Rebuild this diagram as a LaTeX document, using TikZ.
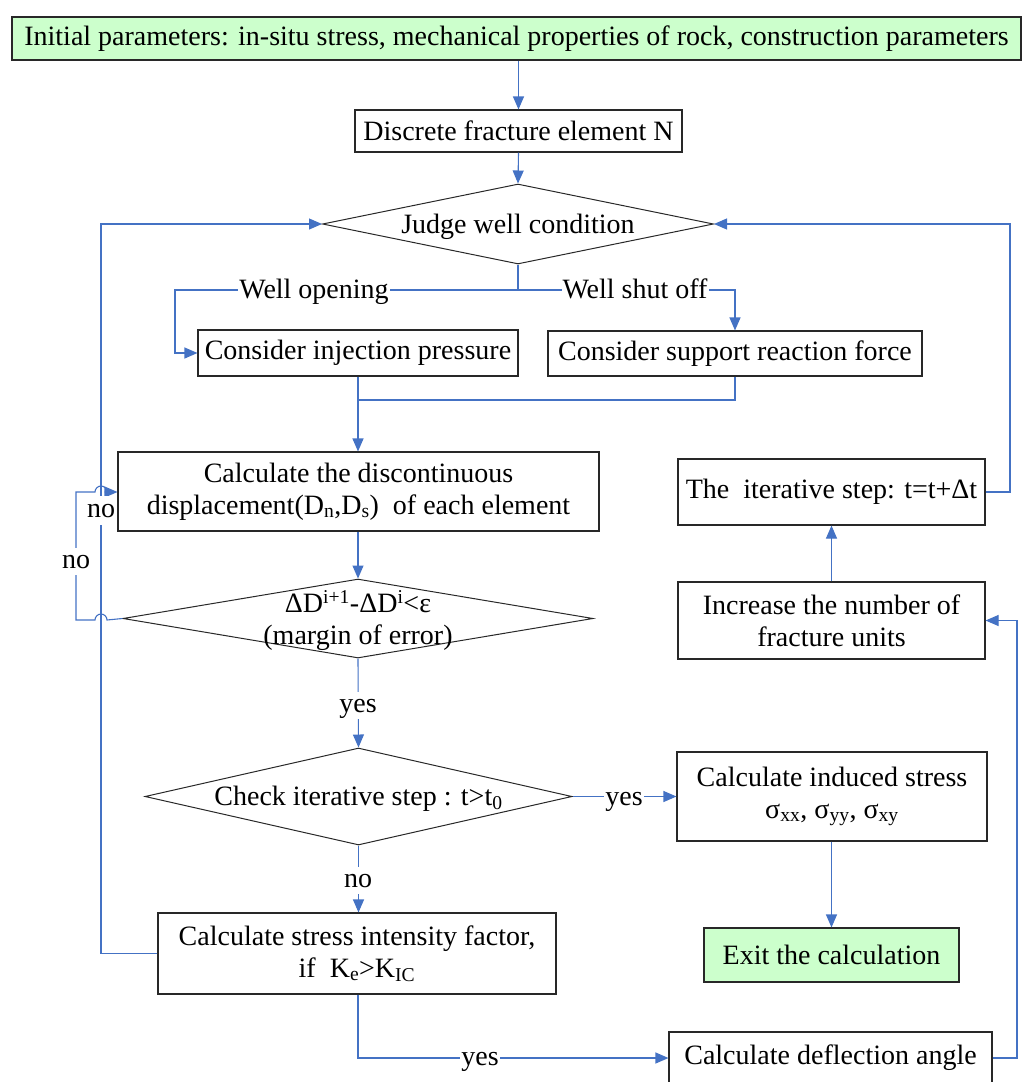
\documentclass[tikz,border=0pt]{standalone}
\usepackage{fontspec}
\setmainfont{Liberation Serif}
\usetikzlibrary{arrows.meta,shapes.geometric}
\definecolor{lblue}{RGB}{68,114,196}
\definecolor{lgreen}{RGB}{204,255,204}
\definecolor{bord}{RGB}{40,40,40}
\begin{document}
\begin{tikzpicture}[x=1pt,y=-1pt,
  font=\fontsize{28}{32}\selectfont,
  box/.style={draw=bord, line width=1.1pt, align=center, inner sep=2pt},
  dia/.style={diamond, draw=bord, line width=1pt, inner sep=0pt},
  conn/.style={draw=lblue, line width=1.1pt},
  arr/.style={conn, -{Triangle[length=13pt,width=11pt]}},
  lab/.style={fill=white, inner sep=1pt, text height=19pt, text depth=6pt}]
\useasboundingbox (0,0) rectangle (1025,1082);

% nodes
\node[box, fill=lgreen, minimum width=1009pt, minimum height=43pt] (init) at (516.5,38.5)
  {Initial parameters: in-situ stress, mechanical properties of rock, construction parameters};
\node[box, minimum width=327pt, minimum height=42pt] (disc) at (518.5,131) {Discrete fracture element N};
\node[dia, minimum width=391pt, minimum height=80pt] (d1) at (518,224) {};
\node (d1t) at (518,226.5) {Judge well condition};
\node[box, minimum width=320pt, minimum height=46pt] (inj) at (358,353) {Consider injection pressure};
\node[box, minimum width=374pt, minimum height=45pt] (sup) at (735,353.5) {Consider support reaction force};
\node[box, minimum width=481pt, minimum height=79pt] (calc) at (358.5,491.5)
  {Calculate the discontinuous\\displacement(D\textsubscript{n},D\textsubscript{s})\ \ of each element};
\node[dia, minimum width=470pt, minimum height=79pt] (d2) at (358,618.5) {};
\node[align=center] (d2t) at (358,621) {ΔD\textsuperscript{i+1}-ΔD\textsuperscript{i}<ε\\(margin of error)};
\node[dia, minimum width=427pt, minimum height=97pt] (d3) at (358.5,796.5) {};
\node (d3t) at (358.5,798.5) {Check iterative step : t>t\textsubscript{0}};
\node[box, minimum width=310pt, minimum height=89pt] (ind) at (832,796.5)
  {Calculate induced stress\\σ\textsubscript{xx}, σ\textsubscript{yy}, σ\textsubscript{xy}};
\node[box, fill=lgreen, minimum width=255pt, minimum height=54pt] (exit) at (831.5,955) {Exit the calculation};
\node[box, minimum width=398pt, minimum height=81pt] (sif) at (357,953.5)
  {Calculate stress intensity factor,\\if\ \ K\textsubscript{e}>K\textsubscript{IC}};
\node[box, minimum width=323pt, minimum height=52pt] (defl) at (830.5,1058) {Calculate deflection angle};
\node[box, minimum width=307pt, minimum height=77pt] (inc) at (831.5,620.5)
  {Increase the number of\\fracture units};
\node[box, minimum width=307pt, minimum height=66pt] (iter) at (831.5,492)
  {The\ \ iterative step: t=t+Δt};

% helper coordinates
\coordinate (split) at (518,290);
\coordinate (wol) at (175,290);
\coordinate (wsr) at (735,290);
\coordinate (merge) at (358,400);
\coordinate (supd) at (735,400);
\coordinate (nol1) at (76,620);
\coordinate (nol2) at (76,492);
\coordinate (nob1) at (101,953.5);
\coordinate (nob2) at (101,224);
\coordinate (yb) at (358,1058);
\coordinate (rr1) at (1017,1058);
\coordinate (rr2) at (1017,620.5);
\coordinate (tr1) at (1010,492);
\coordinate (tr2) at (1010,224);

% connectors
\draw[arr] (disc.north |- init.south) -- (disc.north);
\draw[arr] (disc.south) -- (d1.north);
\draw[conn] (d1.south) -- (split);
\draw[arr] (split) -- (wol) -- (wol |- inj.west) -- (inj.west);
\draw[arr] (split) -- (wsr) -- (sup.north);
\node[lab] at (314,291.5) {Well opening};
\node[lab] at (635,291.5) {Well shut off};
\draw[arr] (inj.south) -- (calc.north -| inj.south);
\draw[conn] (sup.south) -- (supd) -- (merge);
\draw[arr] (calc.south -| d2.north) -- (d2.north);

% no loop from d2 back to calc (with hops over x=101)
\draw[arr] (d2.west) -- (107,620) arc[start angle=0, end angle=-180, radius=6] -- (nol1) -- (nol2)
  -- (95,492) arc[start angle=180, end angle=360, radius=6] -- (calc.west |- nol2);
\node[lab] at (76,561.5) {no};

\draw[arr] (d2.south) -- (d3.north);
\node[lab] at (358,705.5) {yes};
\draw[arr] (d3.east) -- (ind.west |- d3.east);
\node[lab] at (624,798.5) {yes};
\draw[arr] (ind.south -| exit.north) -- (exit.north);
\draw[arr] (d3.south) -- (sif.north -| d3.south);
\node[lab] at (358,880.5) {no};

% no from sif back to d1
\draw[arr] (sif.west) -- (nob1) -- (nob2) -- (d1.west);
\node[lab, inner sep=2pt] at (101,510.5) {no};

% yes from sif to deflection
\draw[arr] (sif.south -| yb) -- (yb) -- (defl.west);
\node[lab] at (480,1058.5) {yes};

\draw[arr] (defl.east) -- (rr1) -- (rr2) -- (inc.east);
\draw[arr] (inc.north) -- (iter.south);
\draw[arr] (iter.east) -- (tr1) -- (tr2) -- (d1.east);
\end{tikzpicture}
\end{document}
